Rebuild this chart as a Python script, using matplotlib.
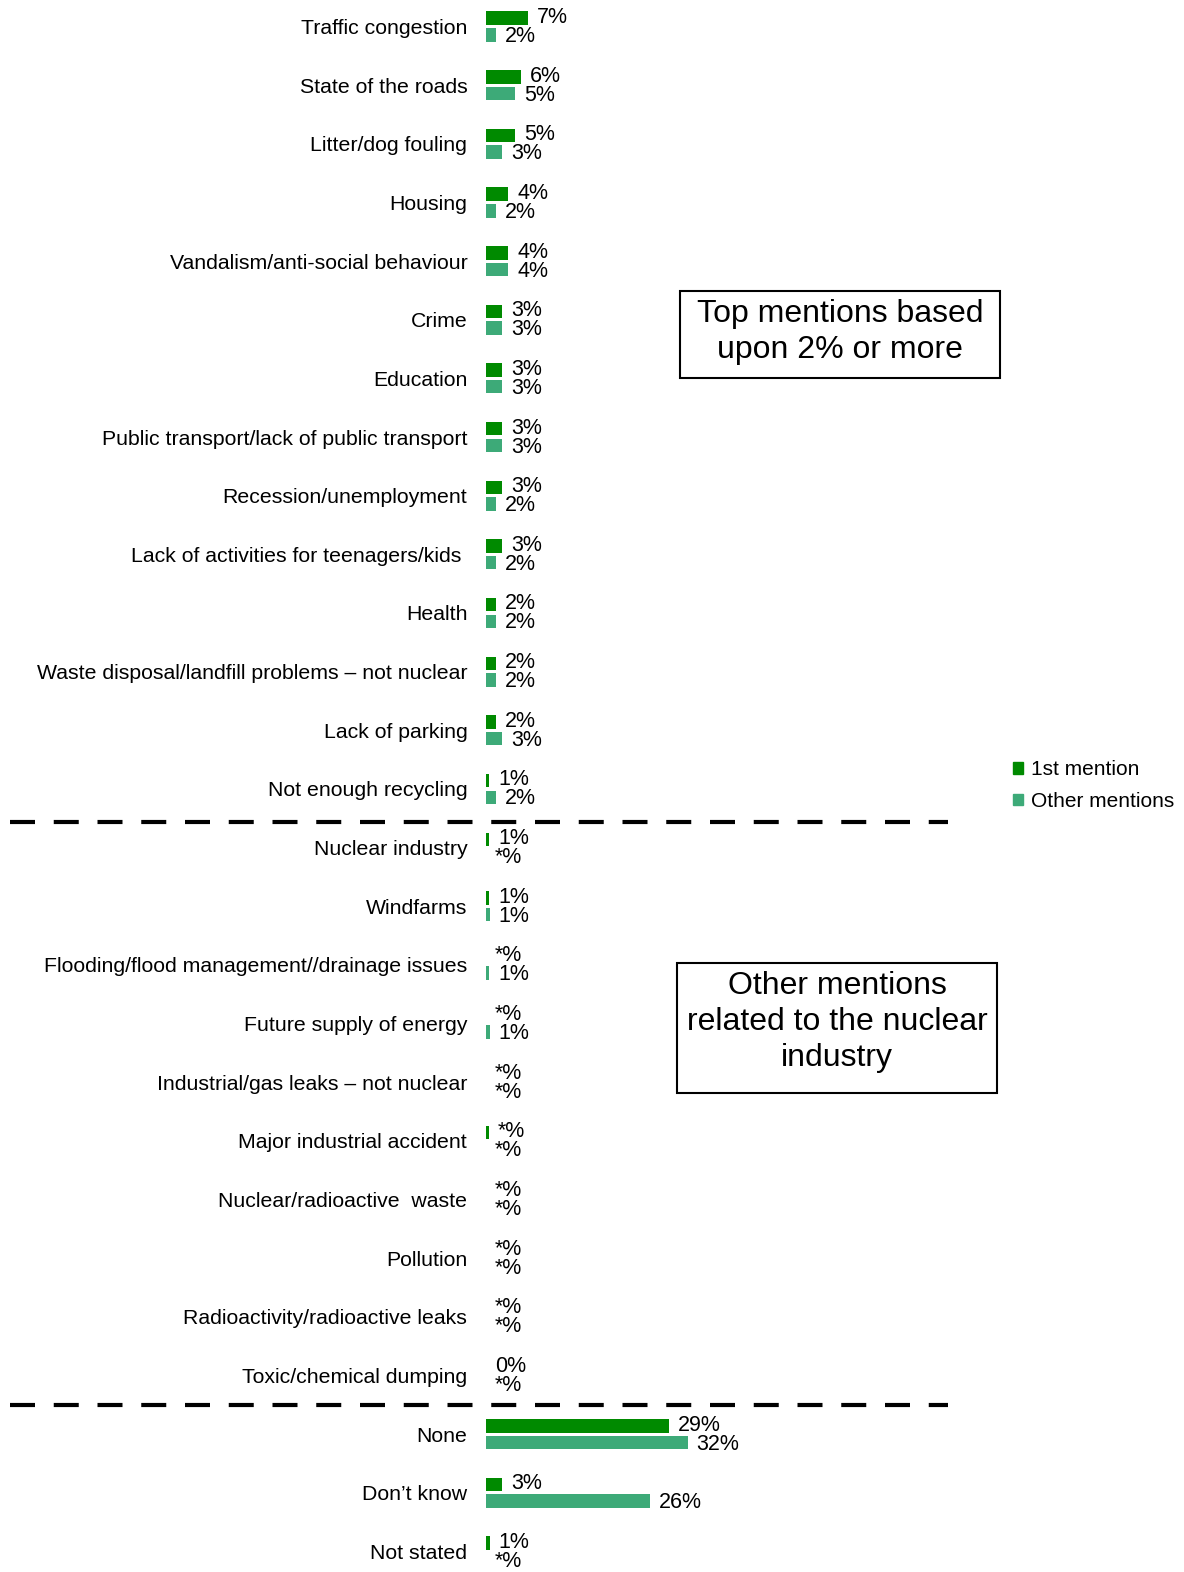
import matplotlib
matplotlib.use("Agg")
import matplotlib.pyplot as plt
from matplotlib.patches import Rectangle, Patch
import numpy as np

plt.rcParams["font.family"] = ["Liberation Sans", "DejaVu Sans"]

CATEGORIES = [
    "Traffic congestion", "State of the roads", "Litter/dog fouling", "Housing",
    "Vandalism/anti-social behaviour", "Crime", "Education",
    "Public transport/lack of public transport", "Recession/unemployment",
    "Lack of activities for teenagers/kids ", "Health",
    "Waste disposal/landfill problems \u2013 not nuclear", "Lack of parking",
    "Not enough recycling", "Nuclear industry", "Windfarms",
    "Flooding/flood management//drainage issues", "Future supply of energy",
    "Industrial/gas leaks \u2013 not nuclear", "Major industrial accident",
    "Nuclear/radioactive  waste", "Pollution", "Radioactivity/radioactive leaks",
    "Toxic/chemical dumping", "None", "Don\u2019t know", "Not stated",
]
# bar lengths (%)
FIRST = [6.7, 5.6, 4.6, 3.5, 3.5, 2.5, 2.5, 2.5, 2.5, 2.5, 1.6, 1.6, 1.6, 0.5,
         0.5, 0.5, 0.0, 0.0, 0.0, 0.5, 0.0, 0.0, 0.0, 0.0, 29.0, 2.6, 0.6]
OTHER = [1.6, 4.6, 2.5, 1.6, 3.5, 2.5, 2.5, 2.5, 1.6, 1.6, 1.6, 1.6, 2.5, 1.6,
         0.0, 0.6, 0.5, 0.6, 0.0, 0.0, 0.0, 0.0, 0.0, 0.0, 32.0, 26.0, 0.0]
FIRST_LBL = ["7%", "6%", "5%", "4%", "4%", "3%", "3%", "3%", "3%", "3%", "2%", "2%", "2%", "1%",
             "1%", "1%", "*%", "*%", "*%", "*%", "*%", "*%", "*%", "0%", "29%", "3%", "1%"]
OTHER_LBL = ["2%", "5%", "3%", "2%", "4%", "3%", "3%", "3%", "2%", "2%", "2%", "2%", "3%", "2%",
             "*%", "1%", "1%", "1%", "*%", "*%", "*%", "*%", "*%", "*%", "32%", "26%", "*%"]
SEPARATORS = [13.57, 23.5]

C_FIRST = "#008A00"
C_OTHER = "#3DAA78"

W, H = 1184, 1572
fig = plt.figure(figsize=(W / 100, H / 100), dpi=100)
x0, x1 = 486, 948
px_per_pct = 6.3
row0, row_step = 26.5, 58.65
ax = fig.add_axes([x0 / W, 0, (x1 - x0) / W, 1])
ax.set_xlim(0, (x1 - x0) / px_per_pct)
ax.set_ylim((H - row0) / row_step, -row0 / row_step)

y = np.arange(len(CATEGORIES))
off, bh = 0.142, 0.23
ax.barh(y - off, FIRST, height=bh, color=C_FIRST, label="1st mention")
ax.barh(y + off, OTHER, height=bh, color=C_OTHER, label="Other mentions")

for i in range(len(CATEGORIES)):
    ax.annotate(FIRST_LBL[i], (FIRST[i], y[i] - off), xytext=(6.5, 0.5),
                textcoords="offset points", ha="left", va="center", fontsize=15.5)
    ax.annotate(OTHER_LBL[i], (OTHER[i], y[i] + off), xytext=(6.5, -1.2),
                textcoords="offset points", ha="left", va="center", fontsize=15.5)

ax.set_yticks(y)
ax.set_yticklabels(CATEGORIES, fontsize=15.3)
ax.tick_params(axis="y", length=0, pad=13.5)
ax.set_xticks([])
for s in ax.spines.values():
    s.set_visible(False)

trans = ax.get_yaxis_transform()
for ys in SEPARATORS:
    ax.plot([(10 - x0) / (x1 - x0), 1], [ys, ys], transform=trans, color="black",
            lw=3, ls=(0, (6, 4.5)), clip_on=False)

# annotation boxes (figure pixel coords)
def box(xa, ya, xb, yb, text, ty):
    fig.patches.append(Rectangle((xa / W, 1 - yb / H), (xb - xa) / W, (yb - ya) / H,
                                 transform=fig.transFigure, fill=False,
                                 edgecolor="black", lw=1.5))
    fig.text((xa + xb) / 2 / W, 1 - ty / H, text, ha="center", va="center",
             fontsize=23, linespacing=1.28)

box(680, 291, 1000, 378, "Top mentions based\nupon 2% or more", 332)
box(677, 963, 997, 1093, "Other mentions\nrelated to the nuclear\nindustry", 1022)

handles = [Patch(color=C_FIRST, label="1st mention"), Patch(color=C_OTHER, label="Other mentions")]
fig.legend(handles=handles, loc="upper left", bbox_to_anchor=(1005 / W, 1 - 752 / H),
           frameon=False, fontsize=15, handlelength=0.45, handleheight=0.45,
           handletextpad=0.4, labelspacing=0.6, borderaxespad=0)

fig.savefig("out.png", dpi=100)
